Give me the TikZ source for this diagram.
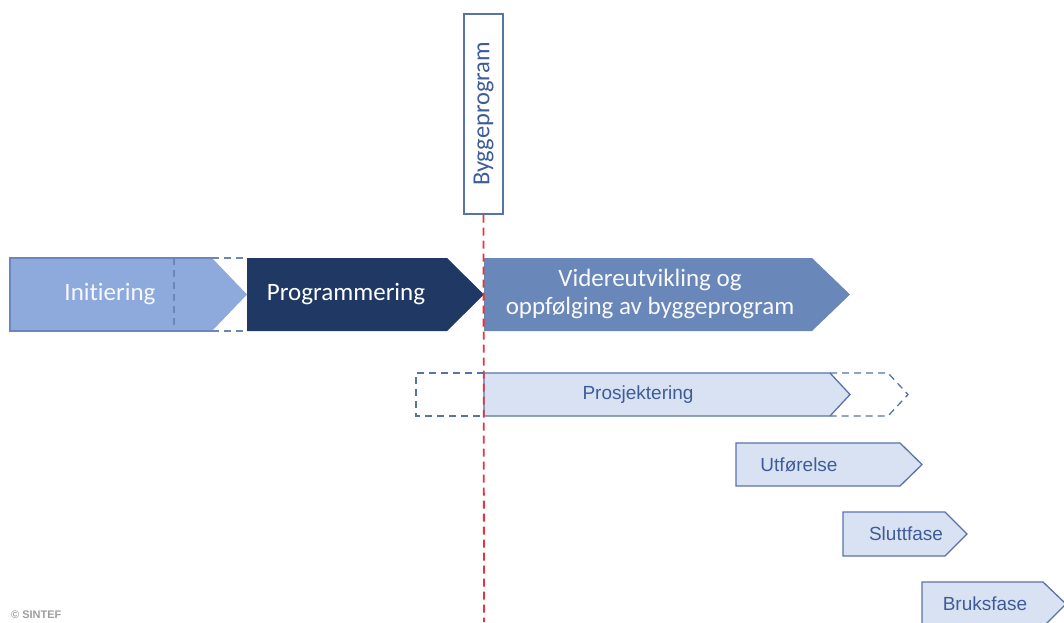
\documentclass[tikz,border=0pt]{standalone}
\usepackage{fontspec}
\setmainfont[Ligatures=NoCommon]{Carlito}
\newfontfamily\arialf{Liberation Sans}
\definecolor{initfill}{HTML}{8EA9DB}
\definecolor{initline}{HTML}{6A86BA}
\definecolor{progfill}{HTML}{203864}
\definecolor{videfill}{HTML}{6A87B9}
\definecolor{lightfill}{HTML}{D9E2F3}
\definecolor{edge}{HTML}{5873A8}
\definecolor{labtxt}{HTML}{3E5C98}
\definecolor{redl}{HTML}{E8333A}
\begin{document}
\begin{tikzpicture}[x=1pt,y=-1pt,
  bigtxt/.style={font=\fontsize{25}{27.5}\selectfont,text=white,align=center},
  smalltxt/.style={font=\arialf\fontsize{19}{22}\selectfont,text=labtxt},
  lightarrow/.style={fill=lightfill,draw=edge,line width=1.3pt,line join=miter},
  dashline/.style={draw=edge,line width=1.3pt,dash pattern=on 7pt off 5pt}]
\useasboundingbox (0,0) rectangle (1064,622);
\clip (0,0) rectangle (1064,622);
% Initiering
\fill[initfill] (10,258) -- (212,258) -- (247,294.5) -- (212,331) -- (10,331) -- cycle;
\draw[initline,line width=1.3pt] (212,258) -- (10,258) -- (10,331) -- (212,331);
\draw[dashline,draw=initline] (174,258) -- (174,331);
\draw[dashline,draw=initline] (212,258) -- (247,258);
\draw[dashline,draw=initline] (212,331) -- (247,331);
\node[bigtxt,text=white!92!initfill] (init) at (110,294) {Initiering};
% Programmering
\fill[progfill] (247,258) -- (447,258) -- (484,294.5) -- (447,331) -- (247,331) -- cycle;
\node[bigtxt] (prog) at (346,294) {Programmering};
% Videreutvikling
\fill[videfill] (484,258) -- (812,258) -- (850,294.5) -- (812,331) -- (484,331) -- cycle;
\node[bigtxt,text=white!95!videfill] (vide) at (650,294) {Videreutvikling og\\oppfølging av byggeprogram};
% Prosjektering
\draw[dashline] (484,373) -- (416,373) -- (416,416) -- (484,416);
\draw[dashline] (830,373) -- (888,373) -- (908,394.5) -- (888,416) -- (830,416);
\draw[lightarrow] (484,373) -- (830,373) -- (850,394.5) -- (830,416) -- (484,416) -- cycle;
\node[smalltxt] (pros) at (638,395) {Prosjektering};
% Utforelse
\draw[lightarrow] (736,443) -- (900,443) -- (922,464.5) -- (900,486) -- (736,486) -- cycle;
\node[smalltxt] (utf) at (799,465) {Utførelse};
% Sluttfase
\draw[lightarrow] (843,512) -- (945,512) -- (967,534) -- (945,556) -- (843,556) -- cycle;
\node[smalltxt] (slutt) at (906,534) {Sluttfase};
% Bruksfase
\draw[lightarrow] (922,582) -- (1043,582) -- (1066,604) -- (1043,627) -- (922,627) -- cycle;
\node[smalltxt] (bruk) at (985,604) {Bruksfase};
% Byggeprogram
\node[draw=edge,line width=1.3pt,fill=white,minimum width=39pt,minimum height=200pt,inner sep=0pt] (bp) at (483.5,114) {};
\node[rotate=90,font=\fontsize{24.5}{27}\selectfont,text=labtxt] (bptxt) at (bp.center) {Byggeprogram};
\coordinate (bottom) at (484,622);
\draw[redl,line width=1.8pt,dash pattern=on 8pt off 5pt] (bp.south) -- (bottom);
% copyright
\node[font=\arialf\bfseries\fontsize{11}{12}\selectfont,text=black!38,anchor=west,inner sep=0pt] (cr) at (11,615) {© SINTEF};
\end{tikzpicture}
\end{document}
